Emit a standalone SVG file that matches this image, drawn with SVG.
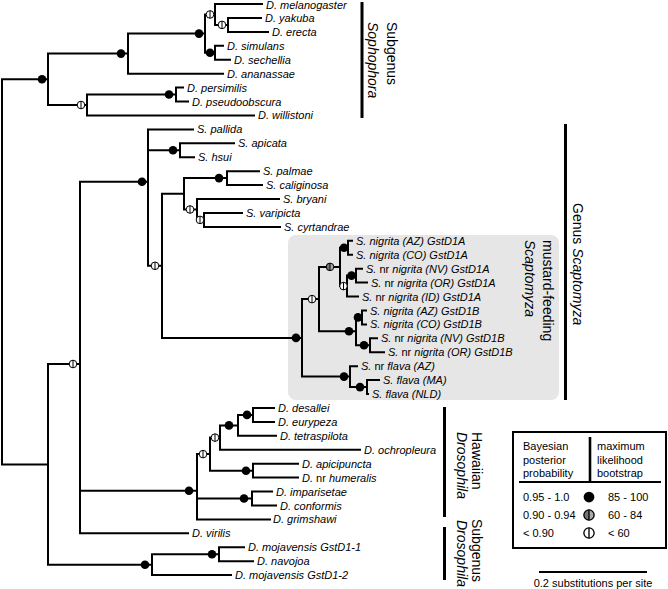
<svg xmlns="http://www.w3.org/2000/svg" width="668" height="589" viewBox="0 0 668 589">
<defs>
<style>
.t{font-family:"Liberation Sans",Arial,Helvetica,sans-serif;font-size:11px;font-style:italic;fill:#000}
.n{font-style:normal}
.l{font-family:"Liberation Sans",Arial,Helvetica,sans-serif;font-size:11px;fill:#000}
.b{font-family:"Liberation Sans",Arial,Helvetica,sans-serif;font-size:14px;fill:#000}
.i{font-style:italic}
.br{fill:none;stroke:#000;stroke-width:2;stroke-linecap:square;stroke-linejoin:miter}
.bar{stroke:#000;stroke-width:3;fill:none}
</style>
<g id="sf"><circle r="4.3" fill="#000"/></g>
<g id="so"><circle r="3.8" fill="#fff" stroke="#000" stroke-width="1"/><line x1="0" y1="-3.8" x2="0" y2="3.8" stroke="#000" stroke-width="1"/></g>
<g id="sg"><path d="M0,-3.8A3.8,3.8 0 0 0 0,3.8Z" fill="#777"/><path d="M0,-3.8A3.8,3.8 0 0 1 0,3.8Z" fill="#aaa"/><circle r="3.8" fill="none" stroke="#000" stroke-width="1"/><line x1="0" y1="-3.8" x2="0" y2="3.8" stroke="#000" stroke-width="1"/></g>
</defs>
<rect width="668" height="589" fill="#fff"/>
<rect id="mustard-box" x="288" y="235" width="271" height="165" rx="8" fill="#e6e6e6"/>

<g id="connectors" class="br">
<path d="M2,79.3V464.4M2,79.3H48M2,464.4H48"/>
<path d="M48,53.6V105M48,53.6H128M48,105H87"/>
<path d="M128,33.6V73.65M128,33.6H205M128,73.65H223"/>
<path d="M205,14.45V52.75M205,14.45H215M205,52.75H215"/>
<path d="M215,4V24.9M215,4H262M215,24.9H228"/>
<path d="M228,17.9V31.9M228,17.9H261M228,31.9H268"/>
<path d="M215,45.8V59.7M215,45.8H223M215,59.7H230"/>
<path d="M87,94.55V115.4M87,94.55H176M87,115.4H254"/>
<path d="M176,87.6V101.5M176,87.6H183M176,101.5H188"/>
<path d="M48,364V564.7M48,364H80M48,564.7H152"/>
<path d="M80,181.8V533.3M80,181.8H148M80,490.7H197M80,533.3H188"/>
<path d="M148,129.4V265.8M148,129.4H193M148,150.3H180M148,265.8H162"/>
<path d="M180,143.3V157.2M180,143.3H234M180,157.2H194"/>
<path d="M162,193.8V337.9M162,193.8H184M162,337.9H302"/>
<path d="M184,178.1V209.5M184,178.1H227M184,209.5H197"/>
<path d="M227,171.2V185.1M227,171.2H259M227,185.1H262"/>
<path d="M197,199V219.9M197,199H279M197,219.9H204"/>
<path d="M204,213V226.9M204,213H242M204,226.9H280"/>
<path d="M302,299.1V376.6M302,299.1H319M302,376.6H350"/>
<path d="M319,266.9V331.3M319,266.9H340M319,331.3H356"/>
<path d="M340,247.8V286.1M340,247.8H348M340,286.1H347"/>
<path d="M348,240.8V254.7M348,240.8H352M348,254.7H352"/>
<path d="M347,275.6V296.5M347,275.6H356M347,296.5H358"/>
<path d="M356,268.7V282.6M356,268.7H362M356,282.6H367"/>
<path d="M356,317.4V345.3M356,317.4H362M356,345.3H370"/>
<path d="M362,310.5V324.4M362,310.5H366M362,324.4H366"/>
<path d="M370,338.3V352.3M370,338.3H377M370,352.3H384"/>
<path d="M350,366.2V387.1M350,366.2H357M350,387.1H367"/>
<path d="M367,380.1V394M367,380.1H379M367,394H368"/>
<path d="M197,454.1V519.4M197,454.1H210M197,498.5H252M197,519.4H270"/>
<path d="M210,437.6V470.7M210,437.6H220M210,470.7H253"/>
<path d="M220,425.4V449.8M220,425.4H238M220,449.8H360"/>
<path d="M238,414.9V435.8M238,414.9H253M238,435.8H276"/>
<path d="M253,408V421.9M253,408H274M253,421.9H274"/>
<path d="M253,463.7V477.6M253,463.7H298M253,477.6H298"/>
<path d="M252,491.6V505.5M252,491.6H272M252,505.5H276"/>
<path d="M152,554.2V575.1M152,554.2H219M152,575.1H231"/>
<path d="M219,547.3V561.2M219,547.3H244M219,561.2H253"/>
</g>

<g id="support-nodes">
<use href="#sf" x="42" y="79.3"/>
<use href="#sf" x="121" y="53.6"/>
<use href="#sf" x="199" y="33.6"/>
<use href="#so" x="210" y="14.45"/>
<use href="#so" x="222" y="24.9"/>
<use href="#sf" x="210" y="52.75"/>
<use href="#sf" x="169" y="94.55"/>
<use href="#so" x="81" y="105"/>
<use href="#sf" x="142" y="181.8"/>
<use href="#sf" x="173" y="150.3"/>
<use href="#so" x="155" y="265.8"/>
<use href="#sf" x="219" y="178.1"/>
<use href="#so" x="190" y="209.5"/>
<use href="#so" x="200" y="219.9"/>
<use href="#sf" x="296" y="337.9"/>
<use href="#so" x="312" y="299.1"/>
<use href="#sg" x="330" y="266.9"/>
<use href="#sf" x="344" y="247.8"/>
<use href="#sf" x="351.5" y="275.6"/>
<use href="#so" x="343.5" y="286.1"/>
<use href="#sf" x="349" y="331.3"/>
<use href="#sf" x="358" y="317.4"/>
<use href="#sf" x="364" y="345.3"/>
<use href="#sf" x="344" y="376.6"/>
<use href="#sf" x="360" y="387.1"/>
<use href="#sf" x="189" y="490.7"/>
<use href="#so" x="203" y="454.1"/>
<use href="#so" x="215" y="437.6"/>
<use href="#sf" x="229" y="425.4"/>
<use href="#sf" x="247" y="414.9"/>
<use href="#sf" x="246" y="470.7"/>
<use href="#sf" x="244" y="498.5"/>
<use href="#so" x="73" y="364"/>
<use href="#sf" x="145" y="564.7"/>
<use href="#sf" x="212" y="554.2"/>
</g>

<g id="taxa" class="t">
<g id="t0"><text x="266" y="8.8">D. melanogaster</text></g>
<g id="t1"><text x="265" y="21.9">D. yakuba</text></g>
<g id="t2"><text x="272" y="35.9">D. erecta</text></g>
<g id="t3"><text x="227" y="49.8">D. simulans</text></g>
<g id="t4"><text x="234" y="63.7">D. sechellia</text></g>
<g id="t5"><text x="227" y="77.7">D. ananassae</text></g>
<g id="t6"><text x="187" y="91.6">D. persimilis</text></g>
<g id="t7"><text x="192" y="105.5">D. pseudoobscura</text></g>
<g id="t8"><text x="258" y="119.4">D. willistoni</text></g>
<g id="t9"><text x="197" y="133.4">S. pallida</text></g>
<g id="t10"><text x="238" y="147.3">S. apicata</text></g>
<g id="t11"><text x="198" y="161.2">S. hsui</text></g>
<g id="t12"><text x="263" y="175.2">S. palmae</text></g>
<g id="t13"><text x="266" y="189.1">S. caliginosa</text></g>
<g id="t14"><text x="283" y="203">S. bryani</text></g>
<g id="t15"><text x="246" y="217">S. varipicta</text></g>
<g id="t16"><text x="284" y="230.9">S. cyrtandrae</text></g>
<g id="t17"><text x="356" y="244.8">S. nigrita (AZ) GstD1A</text></g>
<g id="t18"><text x="356" y="258.7">S. nigrita (CO) GstD1A</text></g>
<g id="t19"><text x="366" y="272.7">S. <tspan class="n">nr</tspan> nigrita (NV) GstD1A</text></g>
<g id="t20"><text x="371" y="286.6">S. <tspan class="n">nr</tspan> nigrita (OR) GstD1A</text></g>
<g id="t21"><text x="362" y="300.5">S. <tspan class="n">nr</tspan> nigrita (ID) GstD1A</text></g>
<g id="t22"><text x="370" y="314.5">S. nigrita (AZ) GstD1B</text></g>
<g id="t23"><text x="370" y="328.4">S. nigrita (CO) GstD1B</text></g>
<g id="t24"><text x="381" y="342.3">S. <tspan class="n">nr</tspan> nigrita (NV) GstD1B</text></g>
<g id="t25"><text x="388" y="356.3">S. <tspan class="n">nr</tspan> nigrita (OR) GstD1B</text></g>
<g id="t26"><text x="361" y="370.2">S. <tspan class="n">nr</tspan> flava (AZ)</text></g>
<g id="t27"><text x="383" y="384.1">S. flava (MA)</text></g>
<g id="t28"><text x="372" y="398">S. flava (NLD)</text></g>
<g id="t29"><text x="278" y="412">D. desallei</text></g>
<g id="t30"><text x="278" y="425.9">D. eurypeza</text></g>
<g id="t31"><text x="280" y="439.8">D. tetraspilota</text></g>
<g id="t32"><text x="364" y="453.8">D. ochropleura</text></g>
<g id="t33"><text x="302" y="467.7">D. apicipuncta</text></g>
<g id="t34"><text x="302" y="481.6">D. <tspan class="n">nr</tspan> humeralis</text></g>
<g id="t35"><text x="276" y="495.6">D. imparisetae</text></g>
<g id="t36"><text x="280" y="509.5">D. conformis</text></g>
<g id="t37"><text x="273" y="523.4">D. grimshawi</text></g>
<g id="t38"><text x="192" y="537.3">D. virilis</text></g>
<g id="t39"><text x="248" y="551.3">D. mojavensis GstD1-1</text></g>
<g id="t40"><text x="257" y="565.2">D. navojoa</text></g>
<g id="t41"><text x="235" y="579.1">D. mojavensis GstD1-2</text></g>
</g>

<g id="group-sophophora">
<line class="bar" x1="362" y1="2" x2="362" y2="118"/>
<text class="b" transform="translate(387,22) rotate(90)">Subgenus</text>
<text class="b i" transform="translate(368,22) rotate(90)">Sophophora</text>
</g>
<g id="group-scaptomyza">
<line class="bar" x1="565.5" y1="124" x2="565.5" y2="400"/>
<text class="b" transform="translate(573,203) rotate(90)">Genus <tspan class="i">Scaptomyza</tspan></text>
</g>
<g id="group-mustard">
<text class="b" transform="translate(543,240) rotate(90)">mustard-feeding</text>
<text class="b i" transform="translate(525,240) rotate(90)">Scaptomyza</text>
</g>
<g id="group-hawaiian">
<line class="bar" x1="444.5" y1="407" x2="444.5" y2="517"/>
<text class="b" transform="translate(472,432) rotate(90)">Hawaiian</text>
<text class="b i" transform="translate(457,432) rotate(90)">Drosophila</text>
</g>
<g id="group-drosophila">
<line class="bar" x1="444.5" y1="527" x2="444.5" y2="580"/>
<text class="b" transform="translate(472,519) rotate(90)">Subgenus</text>
<text class="b i" transform="translate(457,520) rotate(90)">Drosophila</text>
</g>

<g id="legend">
<rect x="513" y="432" width="153" height="116" fill="#fff" stroke="#000" stroke-width="2"/>
<line x1="590" y1="437" x2="590" y2="482" stroke="#000" stroke-width="2.6"/>
<line x1="519" y1="482" x2="661" y2="482" stroke="#000" stroke-width="2"/>
<g class="l">
<text x="523" y="450">Bayesian</text>
<text x="523" y="463.5">posterior</text>
<text x="523" y="477">probability</text>
<text x="597" y="450">maximum</text>
<text x="597" y="463.5">likelihood</text>
<text x="597" y="477">bootstrap</text>
<text x="523" y="501">0.95 - 1.0</text>
<text x="523" y="519">0.90 - 0.94</text>
<text x="523" y="537">&lt; 0.90</text>
<text x="608" y="501">85 - 100</text>
<text x="608" y="519">60 - 84</text>
<text x="608" y="537">&lt; 60</text>
</g>
<use href="#sf" transform="translate(589,497) scale(1.25)"/>
<use href="#sg" transform="translate(589,515) scale(1.35)"/>
<use href="#so" transform="translate(589,533) scale(1.35)"/>
</g>

<g id="scale-bar">
<line x1="539" y1="572" x2="647" y2="572" stroke="#000" stroke-width="2"/>
<text class="l" x="593" y="587" text-anchor="middle">0.2 substitutions per site</text>
</g>
</svg>
